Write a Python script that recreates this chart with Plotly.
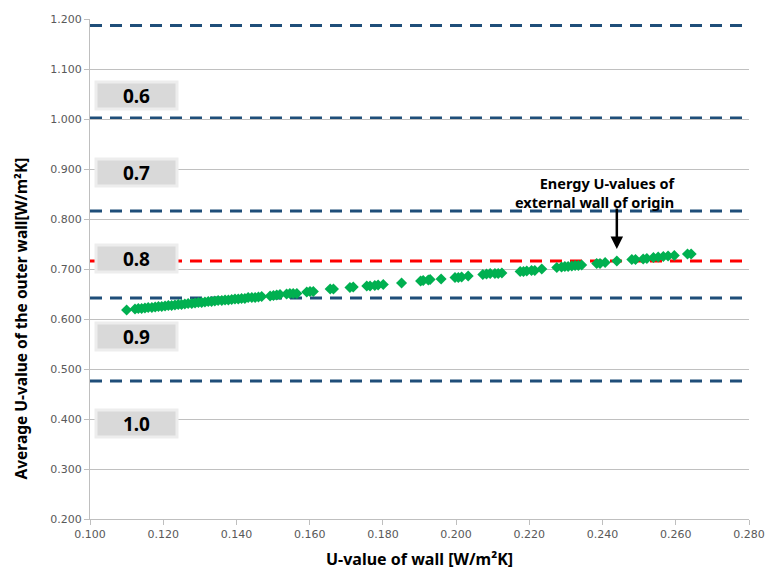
import plotly.graph_objects as go

# Scatter data: U-value of wall vs average U-value of outer wall
u_wall = [
    0.1100, 0.1123, 0.1132, 0.1141, 0.1150, 0.1159, 0.1169, 0.1178, 0.1187, 0.1196,
    0.1205, 0.1214, 0.1223, 0.1232, 0.1241, 0.1250, 0.1259, 0.1268, 0.1278, 0.1287,
    0.1296, 0.1305, 0.1314, 0.1323, 0.1332, 0.1341, 0.1350, 0.1360, 0.1369, 0.1378,
    0.1387, 0.1396, 0.1405, 0.1414, 0.1423, 0.1432, 0.1442, 0.1451, 0.1460, 0.1469,
    0.1492, 0.1501, 0.1510, 0.1519, 0.1537, 0.1546, 0.1555, 0.1565, 0.1592, 0.1601,
    0.1610, 0.1656, 0.1665, 0.1710, 0.1719, 0.1756, 0.1765, 0.1778, 0.1787, 0.1801,
    0.1851, 0.1903, 0.1910, 0.1924, 0.1929, 0.1959, 0.1997, 0.2006, 0.2015, 0.2033,
    0.2073, 0.2083, 0.2093, 0.2106, 0.2115, 0.2125, 0.2175, 0.2184, 0.2193, 0.2206,
    0.2215, 0.2234, 0.2275, 0.2288, 0.2297, 0.2306, 0.2316, 0.2325, 0.2334, 0.2343,
    0.2384, 0.2393, 0.2407, 0.2439, 0.2480, 0.2490, 0.2511, 0.2521, 0.2539, 0.2552,
    0.2566, 0.2579, 0.2596, 0.2632, 0.2642,
]
u_avg = [
    0.618, 0.620, 0.621, 0.621, 0.622, 0.623, 0.623, 0.624, 0.625, 0.625,
    0.626, 0.627, 0.627, 0.628, 0.629, 0.629, 0.630, 0.631, 0.631, 0.632,
    0.633, 0.633, 0.634, 0.635, 0.635, 0.636, 0.637, 0.637, 0.638, 0.638,
    0.639, 0.640, 0.640, 0.641, 0.641, 0.643, 0.643, 0.643, 0.644, 0.645,
    0.646, 0.647, 0.648, 0.649, 0.650, 0.651, 0.651, 0.651, 0.654, 0.655,
    0.655, 0.660, 0.660, 0.663, 0.664, 0.666, 0.666, 0.667, 0.668, 0.669,
    0.672, 0.676, 0.677, 0.678, 0.679, 0.680, 0.683, 0.683, 0.684, 0.686,
    0.689, 0.690, 0.691, 0.691, 0.691, 0.692, 0.695, 0.695, 0.696, 0.697,
    0.697, 0.700, 0.703, 0.704, 0.705, 0.705, 0.706, 0.707, 0.707, 0.708,
    0.711, 0.711, 0.713, 0.716, 0.719, 0.719, 0.720, 0.721, 0.723, 0.724,
    0.725, 0.726, 0.727, 0.730, 0.730,
]

# Horizontal dashed threshold lines
boundary_levels = [1.187, 1.002, 0.816, 0.642, 0.476]
origin_level = 0.716

# Band labels
band_labels = ["0.6", "0.7", "0.8", "0.9", "1.0"]
band_label_y = [1.048, 0.894, 0.721, 0.566, 0.392]
band_label_x = 0.1126

# Annotation
origin_point = (0.2439, 0.740)
origin_text = "Energy U-values of<br>external wall of origin"
origin_text_pos = (0.2606, 0.854)

x_ticks = [0.10, 0.12, 0.14, 0.16, 0.18, 0.20, 0.22, 0.24, 0.26, 0.28]
y_ticks = [0.2, 0.3, 0.4, 0.5, 0.6, 0.7, 0.8, 0.9, 1.0, 1.1, 1.2]

x_title = "U-value of wall [W/m²K]"
y_title = "Average U-value of the outer wall[W/m²K]"

FONT = "Noto Sans"

fig = go.Figure()
fig.add_trace(go.Scatter(
    x=u_wall, y=u_avg, mode="markers",
    marker=dict(symbol="diamond", size=8.5, color="#00b050", line=dict(width=0)),
    showlegend=False, hoverinfo="x+y",
))

shapes = []
for lv in boundary_levels:
    shapes.append(dict(type="line", xref="paper", x0=0, x1=1, yref="y", y0=lv, y1=lv,
                       line=dict(color="#1f4e79", width=3, dash="12px,8px"), layer="below"))
shapes.append(dict(type="line", xref="paper", x0=0, x1=1, yref="y", y0=origin_level, y1=origin_level,
                   line=dict(color="#ff0000", width=3, dash="12px,8px"), layer="below"))

annotations = []
for lab, ly in zip(band_labels, band_label_y):
    annotations.append(dict(x=band_label_x, y=ly, xref="x", yref="y", text="",
                            showarrow=False, width=81, height=27, bgcolor="#ededed"))
    annotations.append(dict(x=band_label_x, y=ly, xref="x", yref="y",
                            text="<b>%s</b>" % lab, showarrow=False,
                            width=75, height=21, bgcolor="#d9d9d9",
                            font=dict(family=FONT, size=19, color="#000000")))

annotations.append(dict(x=origin_point[0], y=origin_point[1], xref="x", yref="y",
                        text="", showarrow=True, ax=0, ay=-42, axref="pixel", ayref="pixel",
                        arrowhead=2, arrowsize=1, arrowwidth=2.5, arrowcolor="#000000"))
annotations.append(dict(x=origin_text_pos[0], y=origin_text_pos[1], xref="x", yref="y",
                        text="<b>%s</b>" % origin_text, showarrow=False,
                        xanchor="right", yanchor="middle", align="right",
                        font=dict(family=FONT, size=14.5, color="#000000")))

# Axis titles as annotations for precise placement
annotations.append(dict(x=0.5, y=0.6, xref="paper", yref="y", text="<b>%s</b>" % y_title,
                        showarrow=False, textangle=-90, xanchor="center", yanchor="middle",
                        xshift=-399, borderpad=0,
                        font=dict(family=FONT, size=15.5, color="#000000")))
annotations.append(dict(x=0.19, y=0.2, xref="x", yref="y", text="<b>%s</b>" % x_title,
                        showarrow=False, xanchor="center", yanchor="middle",
                        yshift=-40, borderpad=0,
                        font=dict(family=FONT, size=16, color="#000000")))

fig.update_layout(
    width=768, height=571,
    margin=dict(l=90, r=19, t=19, b=52),
    paper_bgcolor="white", plot_bgcolor="white",
    font=dict(family=FONT, color="#595959"),
    shapes=shapes, annotations=annotations,
    xaxis=dict(
        range=[0.1, 0.28], tickvals=x_ticks, tickformat=".3f", automargin=False,
        showgrid=False, zeroline=False,
        showline=True, linecolor="#bfbfbf", linewidth=1,
        ticks="outside", ticklen=5, tickcolor="#bfbfbf",
        tickfont=dict(family="DejaVu Sans", size=11, color="#595959"),
    ),
    yaxis=dict(
        range=[0.2, 1.2], tickvals=y_ticks, tickformat=".3f", automargin=False,
        showgrid=True, gridcolor="#c0c0c0", gridwidth=1, zeroline=False,
        showline=True, linecolor="#bfbfbf", linewidth=1,
        ticks="outside", ticklen=5, tickcolor="#bfbfbf",
        tickfont=dict(family="DejaVu Sans", size=11, color="#595959"),
    ),
)

fig.write_html("out.html")
